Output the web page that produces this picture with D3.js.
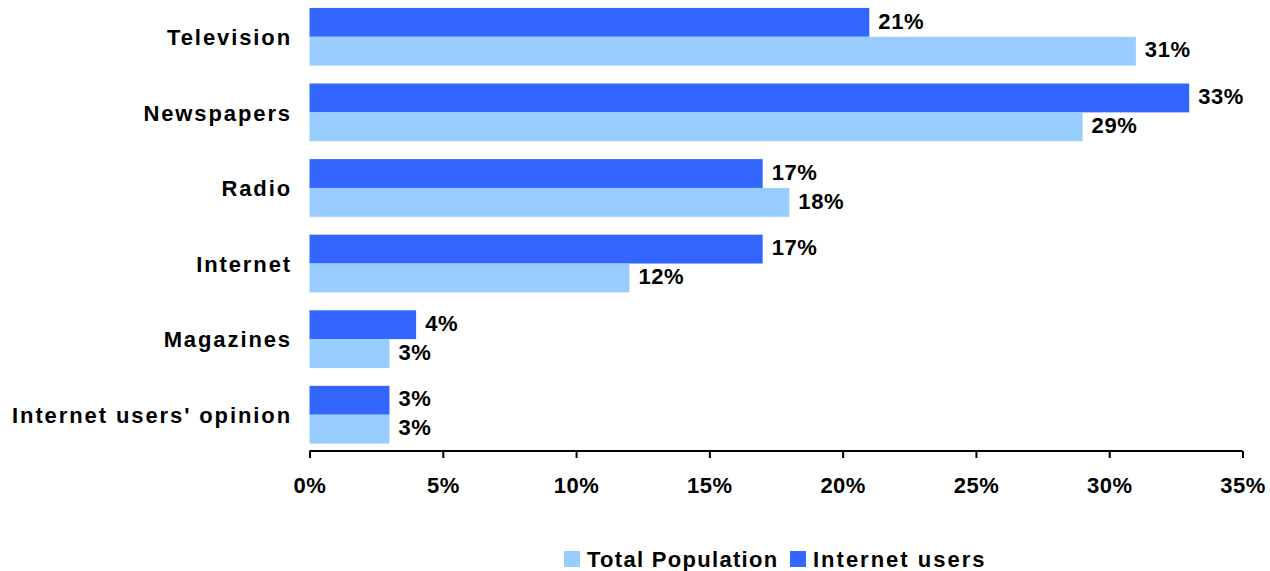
<!DOCTYPE html>
<html>
<head>
<meta charset="utf-8">
<script src="https://cdn.jsdelivr.net/npm/d3@7"></script>
<style>
  html, body { margin: 0; padding: 0; background: #fff; }
  svg { display: block; font-family: "Liberation Sans", Arial, sans-serif; font-weight: bold; }
</style>
</head>
<body>
<svg id="chart" width="1270" height="571"></svg>
<script>
// Media sources, top to bottom
const categories = ["Television", "Newspapers", "Radio", "Internet", "Magazines", "Internet users' opinion"];
const internetUsers = [21, 33, 17, 17, 4, 3];
const totalPopulation = [31, 29, 18, 12, 3, 3];
const xTicks = [0, 5, 10, 15, 20, 25, 30, 35];

const series = [
  { key: "Internet users", values: internetUsers, color: "#3366FF" },
  { key: "Total Population", values: totalPopulation, color: "#99CCFF" }
];

const svg = d3.select("#chart");
const left = 309.5, right = 1242.5, axisY = 451;
const fontSize = 22;

const x = d3.scaleLinear().domain([0, 35]).range([left, right]);
const y = d3.scaleBand().domain(categories).range([-1, 452.5]).paddingInner(0.236).paddingOuter(0.118);
const inner = d3.scaleBand().domain(series.map(s => s.key)).range([0, y.bandwidth()]);

const groups = svg.append("g").selectAll("g")
  .data(categories)
  .join("g")
  .attr("transform", d => `translate(0,${y(d)})`);

series.forEach(s => {
  groups.append("rect")
    .attr("x", x(0))
    .attr("y", inner(s.key))
    .attr("width", (d, i) => x(s.values[i]) - x(0))
    .attr("height", inner.bandwidth())
    .attr("fill", s.color);
  groups.append("text")
    .attr("x", (d, i) => x(s.values[i]) + 9)
    .attr("y", inner(s.key) + inner.bandwidth() / 2)
    .attr("dy", "0.28em")
    .attr("font-size", fontSize)
    .attr("letter-spacing", 0.6)
    .attr("fill", "#000")
    .text((d, i) => s.values[i] + "%");
});

// Category labels
svg.append("g").selectAll("text")
  .data(categories)
  .join("text")
  .attr("x", 292)
  .attr("y", d => y(d) + y.bandwidth() / 2)
  .attr("dy", "0.37em")
  .attr("text-anchor", "end")
  .attr("font-size", fontSize)
  .attr("letter-spacing", 1.9)
  .attr("fill", "#000")
  .text(d => d);

// X axis
const axis = svg.append("g")
  .attr("transform", `translate(0,${axisY})`)
  .call(d3.axisBottom(x).tickValues(xTicks).tickSize(7).tickPadding(19).tickFormat(d => d + "%"));
axis.select(".domain").attr("stroke", "#000").attr("stroke-width", 2).attr("d", `M${left},0H${right}`);
axis.selectAll(".tick line").attr("stroke", "#000").attr("stroke-width", 2);
axis.selectAll(".tick text")
  .attr("font-size", fontSize)
  .attr("font-family", "Liberation Sans, Arial, sans-serif")
  .attr("font-weight", "bold")
  .attr("letter-spacing", 0.5)
  .attr("fill", "#000");

// Legend
const legendItems = [
  { key: "Total Population", color: "#99CCFF", x: 564, spacing: 1.3 },
  { key: "Internet users", color: "#3366FF", x: 790, spacing: 2.0 }
];
const legend = svg.append("g").selectAll("g")
  .data(legendItems)
  .join("g")
  .attr("transform", d => `translate(${d.x},551)`);
legend.append("rect").attr("width", 16).attr("height", 16).attr("fill", d => d.color);
legend.append("text")
  .attr("x", 23)
  .attr("y", 8)
  .attr("dy", "0.35em")
  .attr("font-size", fontSize)
  .attr("letter-spacing", d => d.spacing)
  .attr("fill", "#000")
  .text(d => d.key);
</script>
</body>
</html>
